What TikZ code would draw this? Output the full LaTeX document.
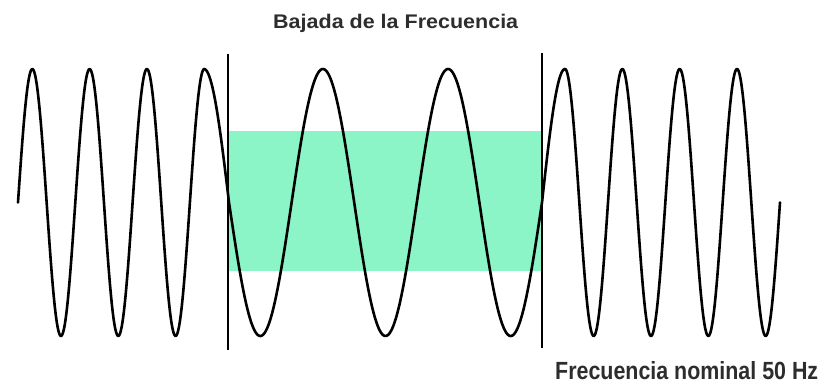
\documentclass[tikz,border=0pt]{standalone}
\usepackage{fontspec}
\setmainfont{Liberation Sans}
\usepackage{graphicx}
\definecolor{mint}{RGB}{140,245,199}
\definecolor{txt}{RGB}{45,45,45}
\tikzset{
  wave/.style={line width=2.6pt, black, line join=round, line cap=round},
  marker/.style={line width=2.2pt, black},
  label/.style={inner sep=0pt, anchor=base west, text=txt, font=\bfseries}
}
\begin{document}
\begin{tikzpicture}[x=1pt,y=-1pt]
\useasboundingbox (0,0) rectangle (827,385);
\fill[mint] (229,131) rectangle (541,271);
\draw[wave]
  plot[domain=18:204, samples=240, smooth] (\x, {202.5 - 133.5*sin(6.2827*(\x-18))})
  -- plot[domain=204:229, samples=40, smooth] (\x, {202.5 - 133.5*cos(3.6*(\x-204))})
  -- plot[domain=229:542, samples=300, smooth] (\x, {202.5 + 133.5*sin(2.8754*(\x-229))})
  -- plot[domain=542:565, samples=40, smooth] (\x, {202.5 - 133.5*sin(3.913*(\x-542))})
  -- plot[domain=565:780, samples=280, smooth] (\x, {202.5 - 133.5*cos(6.2794*(\x-565))});
\coordinate (l1) at (228,54);
\coordinate (l2) at (228,350);
\coordinate (r1) at (542,53);
\coordinate (r2) at (542,348);
\draw[marker] (l1) -- (l2);
\draw[marker] (r1) -- (r2);
\node[label] (title) at (273,29) {\resizebox{245pt}{14.3pt}{Bajada de la Frecuencia}};
\node[label] (nominal) at (555,379) {\resizebox{263pt}{18pt}{Frecuencia nominal 50 Hz}};
\end{tikzpicture}
\end{document}
